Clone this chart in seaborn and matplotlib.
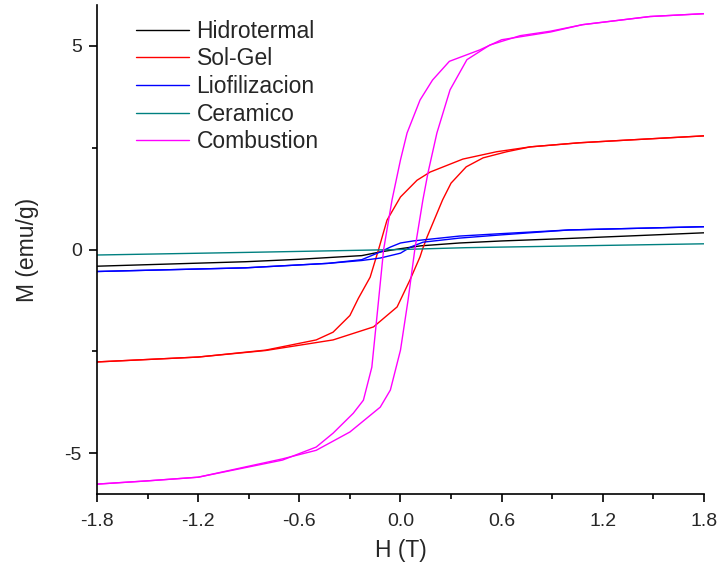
import numpy as np
import pandas as pd
import seaborn as sns
from matplotlib import pyplot as plt
from matplotlib.ticker import MultipleLocator

# hysteresis loops, H in T, M in emu/g
# each sample has a descending branch (+1.8 -> -1.8) and an ascending one (-1.8 -> +1.8)
hidro_H = [1.8, 1.4, 0.99, 0.6, 0.35, 0.12, 0.0, -0.12, -0.23, -0.6, -0.92, -1.4, -1.8]
hidro_M = [0.41, 0.34, 0.27, 0.21, 0.16, 0.09, 0.02, -0.06, -0.15, -0.24, -0.30, -0.36, -0.41]

sol_down_H = [1.8, 1.36, 1.06, 0.77, 0.57, 0.37, 0.175, 0.098, 0.0, -0.08, -0.13, -0.18, -0.25,
              -0.30, -0.40, -0.50, -0.8, -1.2, -1.8]
sol_down_M = [2.79, 2.69, 2.62, 2.52, 2.40, 2.22, 1.90, 1.70, 1.29, 0.72, 0.0, -0.68, -1.2,
              -1.62, -2.03, -2.22, -2.47, -2.64, -2.76]
sol_up_H = [-1.8, -1.2, -0.8, -0.4, -0.16, -0.02, 0.056, 0.116, 0.13, 0.158, 0.25, 0.30, 0.39,
            0.49, 0.63, 0.77, 1.06, 1.36, 1.8]
sol_up_M = [-2.76, -2.64, -2.48, -2.22, -1.90, -1.41, -0.75, -0.18, 0.0, 0.31, 1.22, 1.63, 2.03,
            2.25, 2.40, 2.52, 2.62, 2.69, 2.79]

lio_down_H = [1.8, 1.0, 0.6, 0.35, 0.075, 0.0, -0.06, -0.12, -0.23, -0.43, -0.92, -1.8]
lio_down_M = [0.56, 0.48, 0.39, 0.33, 0.21, 0.16, 0.06, -0.06, -0.25, -0.34, -0.45, -0.54]
lio_up_H = [-1.8, -0.92, -0.43, -0.23, -0.12, 0.0, 0.06, 0.134, 0.35, 0.6, 1.0, 1.8]
lio_up_M = [-0.54, -0.45, -0.34, -0.27, -0.21, -0.09, 0.06, 0.18, 0.28, 0.36, 0.48, 0.56]

cer_H = [1.8, 0.99, 0.39, 0.0, -0.9, -1.8]
cer_M = [0.14, 0.086, 0.045, 0.0, -0.07, -0.135]

comb_down_H = [1.8, 1.48, 1.28, 1.08, 0.89, 0.6, 0.47, 0.29, 0.19, 0.116, 0.039, 0.0, -0.05,
               -0.1, -0.14, -0.17, -0.22, -0.28, -0.40, -0.50, -0.70, -1.2, -1.5, -1.8]
comb_down_M = [5.79, 5.72, 5.62, 5.52, 5.34, 5.15, 4.90, 4.62, 4.16, 3.67, 2.86, 2.20, 1.22,
               0.0, -1.66, -2.89, -3.70, -4.02, -4.51, -4.85, -5.17, -5.59, -5.68, -5.76]
comb_up_H = [-1.8, -1.5, -1.2, -0.7, -0.5, -0.3, -0.12, -0.06, 0.0, 0.045, 0.085, 0.133, 0.163,
             0.216, 0.294, 0.394, 0.53, 0.71, 0.89, 1.08, 1.28, 1.48, 1.8]
comb_up_M = [-5.76, -5.68, -5.59, -5.14, -4.93, -4.48, -3.87, -3.45, -2.47, -1.24, 0.0, 1.22, 1.88,
             2.86, 3.92, 4.66, 5.02, 5.25, 5.36, 5.52, 5.62, 5.72, 5.79]

samples = ["Hidrotermal", "Sol-Gel", "Liofilizacion", "Ceramico", "Combustion"]
colors = ["black", "red", "blue", "#008080", "magenta"]

branches = [
    ("Hidrotermal", "down", hidro_H, hidro_M),
    ("Sol-Gel", "down", sol_down_H, sol_down_M),
    ("Sol-Gel", "up", sol_up_H, sol_up_M),
    ("Liofilizacion", "down", lio_down_H, lio_down_M),
    ("Liofilizacion", "up", lio_up_H, lio_up_M),
    ("Ceramico", "down", cer_H, cer_M),
    ("Combustion", "down", comb_down_H, comb_down_M),
    ("Combustion", "up", comb_up_H, comb_up_M),
]
rows = []
for name, br, hs, ms in branches:
    for h, m in zip(hs, ms):
        rows.append({"H": h, "M": m, "sample": name, "branch": br})
df = pd.DataFrame(rows)

sns.set_style("ticks")
plt.rcParams['font.family'] = ['Liberation Sans', 'DejaVu Sans']
plt.rcParams['axes.unicode_minus'] = False

fig = plt.figure(figsize=(7.19, 5.69), dpi=100)
ax = fig.add_axes([0.135, 0.132, 0.844, 0.859])

sns.lineplot(data=df, x="H", y="M", hue="sample", units="branch", estimator=None,
             sort=False, hue_order=samples, palette=dict(zip(samples, colors)),
             linewidth=1, ax=ax)

ax.set_xlim(-1.8, 1.8)
ax.set_ylim(-6, 6)
ax.xaxis.set_minor_locator(MultipleLocator(0.3))
ax.yaxis.set_major_locator(MultipleLocator(5))
ax.yaxis.set_minor_locator(MultipleLocator(2.5))
ax.set_xticks(np.arange(-1.8, 1.81, 0.6))
ax.set_xticklabels(["-1.8", "-1.2", "-0.6", "0.0", "0.6", "1.2", "1.8"])
ax.tick_params(which="major", length=6, width=1.2, labelsize=14, color="black")
ax.tick_params(axis="x", which="major", pad=8)
ax.tick_params(axis="y", which="major", pad=5)
ax.tick_params(which="minor", length=3.5, width=1.2, color="black")
for s in ["left", "bottom"]:
    ax.spines[s].set_linewidth(1.2)
    ax.spines[s].set_color("black")
sns.despine(ax=ax)

ax.set_xlabel("H (T)", fontsize=16.5, labelpad=6)
ax.set_ylabel("M (emu/g)", fontsize=16.5, labelpad=18)

ax.legend(loc="upper left", bbox_to_anchor=(0.03, 1.012), frameon=False, fontsize=16.5,
          handlelength=2.3, handletextpad=0.35, labelspacing=0.2)

fig.savefig("out.png", dpi=100)
